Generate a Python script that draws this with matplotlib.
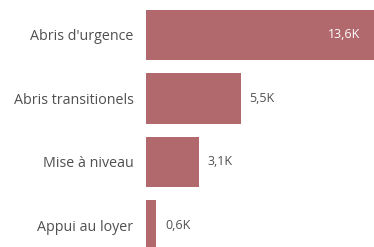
import matplotlib.pyplot as plt

categories = ["Abris d'urgence", "Abris transitionels", "Mise à niveau", "Appui au loyer"]
values = [13.6, 5.5, 3.1, 0.6]
value_labels = ["13,6K", "5,5K", "3,1K", "0,6K"]

bar_color = '#b2696e'
text_color = '#505050'

fig = plt.figure(figsize=(3.74, 2.47), dpi=100)
ax = fig.add_axes([146 / 374, 0, 1 - 146 / 374, 1])

y = list(range(len(categories)))
ax.barh(y, values, height=0.8, color=bar_color)

ax.set_xlim(0, 13.25)
ax.set_ylim(3.339, -0.551)

for i, (v, lab) in enumerate(zip(values, value_labels)):
    if v > 10:
        ax.text(13.25 - 0.8, i, lab, ha='right', va='center', fontsize=9,
                color='white', family='Open Sans')
    else:
        ax.text(v + 0.5, i, lab, ha='left', va='center', fontsize=9,
                color=text_color, family='Open Sans')

ax.set_yticks(y)
ax.set_yticklabels(categories, fontsize=10.3, color=text_color, family='Open Sans')
ax.tick_params(axis='y', length=0, pad=9)
ax.set_xticks([])
for s in ax.spines.values():
    s.set_visible(False)

fig.savefig('out.png', dpi=100)
